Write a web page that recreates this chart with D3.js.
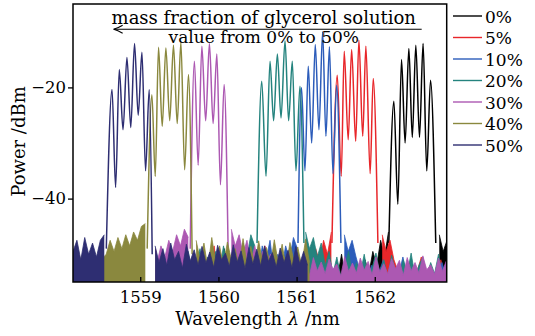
<!DOCTYPE html>
<html>
<head>
<meta charset="utf-8">
<script src="https://cdn.jsdelivr.net/npm/d3@7"></script>
<style>
  body { margin: 0; background: #fff; }
  text { font-family: "DejaVu Serif", serif; fill: #000; }
</style>
</head>
<body>
<svg id="chart" width="535" height="336"></svg>
<script>
// series labels (legend order); drawn in the same order
const labels = ["0%", "5%", "10%", "20%", "30%", "40%", "50%"];
const colors = ["#000000", "#e8262a", "#2c5cba", "#24837e", "#ac58b2", "#8a883e", "#2e2e72"];

const xDomain = [1558.14, 1562.92];
const yDomain = [-55, -5];
const xTicks = [1559, 1560, 1561, 1562];
const yTicks = [-20, -40];

// interference fringes inside each pass band: [wavelength nm, power dBm]
const fringe0 = [[1562.180,-48],[1562.244,-22.5],[1562.295,-41],[1562.342,-15],[1562.388,-30],[1562.436,-13],[1562.480,-29],[1562.525,-12.4],[1562.572,-29],[1562.618,-12.1],[1562.665,-35],[1562.713,-18.7],[1562.780,-48]];
const fringe5 = [[1561.452,-48],[1561.520,-17.8],[1561.571,-36],[1561.609,-13.5],[1561.660,-29.4],[1561.704,-13.2],[1561.756,-29.7],[1561.797,-11.5],[1561.846,-28.8],[1561.886,-12.6],[1561.941,-35.5],[1561.980,-18.4],[1562.040,-48]];
const fringe10 = [[1561.018,-48],[1561.063,-20],[1561.107,-35],[1561.149,-16.2],[1561.193,-30],[1561.239,-12.3],[1561.286,-27.6],[1561.333,-10],[1561.375,-28.8],[1561.420,-12.7],[1561.465,-35.5],[1561.512,-19.6],[1561.567,-48]];
const fringe20 = [[1560.494,-48],[1560.554,-18.9],[1560.609,-36],[1560.660,-15.3],[1560.706,-26],[1560.754,-14],[1560.801,-25.5],[1560.852,-11.6],[1560.898,-26],[1560.945,-15.3],[1560.992,-35],[1561.043,-19.8],[1561.094,-48]];
const fringe30 = [[1559.639,-49],[1559.693,-15.3],[1559.741,-34],[1559.788,-12.6],[1559.837,-26],[1559.885,-12.1],[1559.932,-26.5],[1559.980,-14],[1560.026,-37.5],[1560.073,-19.5],[1560.124,-49]];
const fringe40 = [[1559.089,-49],[1559.149,-21.3],[1559.192,-36],[1559.234,-12.8],[1559.281,-27],[1559.328,-12.9],[1559.377,-26],[1559.425,-12.4],[1559.473,-26.5],[1559.520,-11.9],[1559.568,-34.8],[1559.617,-17.7],[1559.664,-50]];
const fringe50 = [[1558.566,-49],[1558.639,-20.4],[1558.685,-38],[1558.732,-16.8],[1558.780,-27.6],[1558.830,-14.6],[1558.879,-27.2],[1558.927,-12.1],[1558.974,-25],[1559.022,-13.7],[1559.068,-35],[1559.115,-20.4],[1559.153,-50]];

// noise floor, one value every noiseStep nm from noiseStart; null inside the pass band
const noiseStep = 0.05;
const noiseStart = [1559.925, 1559.195, 1559.91, 1559.565, 1559.215, 1558.165, 1558.14];
const noise0 = [-54,-52.5,-54.5,-49,-54,-53,-54.5,-52,-54,-53.5,-54.5,-51.5,-54,-53,-54.5,-52.5,-54,-53.5,-54.5,-50.5,
  -54,-48.5,-54.5,-53,-54,-52,-54.5,-53.5,-54,-51.5,-54.5,-53,-54,-50,-54.5,-53,-54,-52.5,-54.5,-51,
  -53.5,-49.5,-52,-47.5,-50.5,-46,
  null,null,null,null,null,null,null,null,null,null,null,null,
  -46.5,-49.5,-47.5];
const noise5 = [-49,-54,-52.5,-54.5,-51.5,-54,-53,-50.5,-54.5,-52.5,-54,-53.5,-51,-54,-52.5,-48.5,-54,-53,-54.5,-52,
  -54,-51.5,-54.5,-53,-52,-54,-51.5,-54.5,-48.5,-53,-54,-52.5,-54.5,-53.5,-51,-54,-52.5,-54.5,-51.5,-50,
  -53,-49,-51.5,-47.5,-50,-46,
  null,null,null,null,null,null,null,null,null,null,null,null,
  -46.5,-49.5,-47.5,-51,-53,-52,-54,-51.5,-54.5,-53,-50.5,-54,-52.5,-54.5,-53,-51,-54,-52.5];
const noise10 = [-54,-52,-54.5,-53,-54,-50.5,-54.5,-53,-54,-51.5,-54.5,-52.5,-54,-48.5,-51,-47.5,-53,-50,-52.5,-48.5,
  -51,-47,-49,
  null,null,null,null,null,null,null,null,null,null,null,
  -46.5,-49.5,-47.5,-50.5,-53,-51.5,-54,-52,-54.5,-53,-51,-54,-52.5,-54.5,-53.5,-50.5,-54,-52.5,-54.5,-53,
  -51.5,-54,-52,-54.5,-53,-51.5,-54];
const noise20 = [-53,-49.5,-54,-51.5,-49,-53.5,-50.5,-54,-49.5,-53,-48.5,-52,-53.5,-49.5,-52,-48,-50.5,-46.5,-48.5,
  null,null,null,null,null,null,null,null,null,null,null,null,
  -46,-49,-47,-50.5,-48,-52,-49.5,-53.5,-50.5,-54,-52.5,-49.5,-54,-51.5,-53.5,-50,-54,-52.5,-49.8,-53.5,
  -51,-54,-50.2,-53,-54,-51,-53.5,-49.8,-54,-52,-50.5,-54,-51.5,-53.5,-50,-54,-52];
const noise30 = [-51.5,-48.5,-50.5,-47.5,-49.5,-46.5,-48.5,-45.5,-47,
  null,null,null,null,null,null,null,null,null,null,
  -45.5,-48.5,-46.5,-50,-47.5,-51.5,-48.5,-52,-49.5,-52.5,-50,-53,-50.5,
  -50.8,-53.2,-51.2,-53.6,-50.5,-52.8,-51.5,-53.8,-50.6,-53,-51.4,-53.5,-50.9,-52.7,-51.8,-53.9,-50.4,-53.1,-51.6,-53.4,
  -50.7,-52.9,-51.3,-53.7,-50.5,-53.2,-51.7,-53.5,-50.8,-52.6,-51.1,-53.8,-50.6,-53,-51.5,-53.4,-50.3,-52.8,-51.9,-53.6,
  -50.7,-53.1,-51.2];
const noise40 = [-49,-51.5,-50,-52,-50.5,-51.5,-52,-50.8,-50,-47.5,-49.5,-47,-49,-46.5,-48.5,-46,-47.5,-45,-44.5,
  null,null,null,null,null,null,null,null,null,null,null,null,
  -47.5,-51,-48,-52.5,-47,-51.5,-48.5,-52,-47.8,-51,-49,-52.5,-47.2,-51.8,-48.6,-52.2,-47.6,-51.4,-48.8,-52,
  -47.4,-51.6,-48.2,-52.4,-47.9,-51.2,-48.7,-52.1,-47.3,-51.5];
const noise50 = [-49.5,-47.5,-51,-47,-50,-48,-50.5,-47.5,-46.5,
  null,null,null,null,null,null,null,null,null,null,null,null,
  -48.5,-51.5,-49,-52,-48,-51,-49.5,-52.5,-48.2,-51.2,-49.2,-52,-48.6,-51.6,-49.6,-52.4,-48.4,-51,-49.8,-52.2,
  -48.3,-51.4,-49.4,-52.6,-48.8,-51.8,-49.1,-52.1,-48.5,-51.3,-49.7,-52.3,-48.9,-51.5,-49.3,-52.5,-48.6,-51.7,-49.5,-52];

const fringes = [fringe0, fringe5, fringe10, fringe20, fringe30, fringe40, fringe50];
const noises = [noise0, noise5, noise10, noise20, noise30, noise40, noise50];

const W = 535, H = 336;
const margin = { top: 4, right: 88.3, bottom: 54, left: 73 };

const svg = d3.select('#chart');

const x = d3.scaleLinear().domain(xDomain).range([margin.left, W - margin.right]);
const y = d3.scaleLinear().domain(yDomain).range([H - margin.bottom, margin.top]);

svg.append('defs').append('clipPath').attr('id', 'plot-clip')
  .append('rect')
  .attr('x', margin.left).attr('y', margin.top)
  .attr('width', W - margin.left - margin.right)
  .attr('height', H - margin.top - margin.bottom);

const plot = svg.append('g').attr('clip-path', 'url(#plot-clip)');

const noiseArea = d3.area()
  .defined(d => d[1] !== null)
  .x(d => x(d[0]))
  .y0(y(yDomain[0]))
  .y1(d => y(d[1]));

const noiseLine = d3.line()
  .defined(d => d[1] !== null)
  .x(d => x(d[0]))
  .y(d => y(d[1]));

const fringeLine = d3.line()
  .curve(d3.curveMonotoneX)
  .x(d => x(d[0]))
  .y(d => y(d[1]));

labels.forEach((lab, i) => {
  const pts = noises[i].map((v, k) => [noiseStart[i] + k * noiseStep, v]);
  const g = plot.append('g').attr('class', 'series');
  g.append('path').datum(pts)
    .attr('d', noiseArea)
    .attr('fill', colors[i]);
  g.append('path').datum(pts)
    .attr('d', noiseLine)
    .attr('fill', 'none')
    .attr('stroke', colors[i])
    .attr('stroke-width', 0.8);
  g.append('path').datum(fringes[i])
    .attr('d', fringeLine)
    .attr('fill', 'none')
    .attr('stroke', colors[i])
    .attr('stroke-width', 1.5);
});

// axes
const xAxis = svg.append('g')
  .attr('transform', `translate(0,${y(yDomain[0])})`)
  .call(d3.axisBottom(x).tickValues(xTicks).tickFormat(d3.format('d'))
    .tickSizeInner(-5).tickSizeOuter(0).tickPadding(9));
const yAxis = svg.append('g')
  .attr('transform', `translate(${x(xDomain[0])},0)`)
  .call(d3.axisLeft(y).tickValues(yTicks).tickSizeInner(5).tickSizeOuter(0).tickPadding(2));

[xAxis, yAxis].forEach(a => {
  a.select('.domain').remove();
  a.selectAll('line').attr('stroke', '#000').attr('stroke-width', 1.3);
  a.selectAll('text').attr('font-size', 16.5).attr('font-family', '"DejaVu Serif", serif');
});

// frame
svg.append('rect')
  .attr('x', margin.left).attr('y', margin.top)
  .attr('width', W - margin.left - margin.right)
  .attr('height', H - margin.top - margin.bottom)
  .attr('fill', 'none').attr('stroke', '#000').attr('stroke-width', 1.5);

// axis titles
svg.append('text')
  .attr('transform', 'translate(25,141.5) rotate(-90)')
  .attr('text-anchor', 'middle')
  .attr('font-size', 18)
  .text('Power /dBm');

const xt = svg.append('text')
  .attr('x', 257.5).attr('y', 325)
  .attr('text-anchor', 'middle')
  .attr('font-size', 18);
xt.append('tspan').text('Wavelength ');
xt.append('tspan').attr('font-style', 'italic').text('λ');
xt.append('tspan').text(' /nm');

// annotation with arrow
svg.append('text')
  .attr('x', x(1560.58)).attr('y', y(-8.65))
  .attr('text-anchor', 'middle')
  .attr('font-size', 18)
  .text('mass fraction of glycerol solution');
svg.append('line')
  .attr('x1', x(1562.60)).attr('x2', x(1558.66))
  .attr('y1', y(-9.55)).attr('y2', y(-9.55))
  .attr('stroke', '#000').attr('stroke-width', 1.1);
const ax = x(1558.66), ay = y(-9.55);
svg.append('path')
  .attr('d', `M${ax + 9},${ay - 4} Q${ax + 4},${ay - 1} ${ax},${ay} Q${ax + 4},${ay + 1} ${ax + 9},${ay + 4}`)
  .attr('fill', 'none').attr('stroke', '#000').attr('stroke-width', 1.1);
svg.append('text')
  .attr('x', x(1560.58)).attr('y', y(-11.95))
  .attr('text-anchor', 'middle')
  .attr('font-size', 17)
  .text('value from 0% to 50%');

// legend
const legend = svg.append('g').attr('class', 'legend');
labels.forEach((lab, i) => {
  const ly = 16 + i * 21.5;
  legend.append('line')
    .attr('x1', 453).attr('x2', 482)
    .attr('y1', ly).attr('y2', ly)
    .attr('stroke', colors[i]).attr('stroke-width', 1.4);
  legend.append('text')
    .attr('x', 485).attr('y', ly + 6.5)
    .attr('font-size', 17)
    .text(lab);
});
</script>
</body>
</html>
